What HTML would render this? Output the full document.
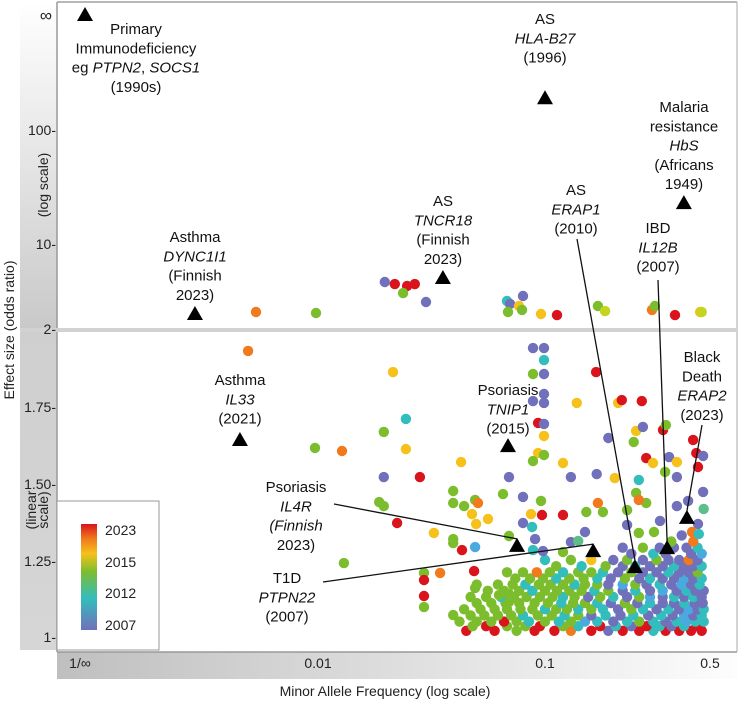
<!DOCTYPE html>
<html><head><meta charset="utf-8"><style>
html,body{margin:0;padding:0;background:#fff;}
svg{display:block;font-family:"Liberation Sans",sans-serif;}
</style></head><body>
<svg id="chart" width="739" height="701" viewBox="0 0 739 701">
<defs>
<linearGradient id="ybandUp" x1="0" y1="0" x2="0" y2="1"><stop offset="0" stop-color="#fff"/><stop offset="1" stop-color="#c9c9c9"/></linearGradient>
<linearGradient id="ybandLo" x1="0" y1="0" x2="0" y2="1"><stop offset="0" stop-color="#cfcfcf"/><stop offset="1" stop-color="#d6d6d6"/></linearGradient>
<linearGradient id="xband" x1="0" y1="0" x2="1" y2="0"><stop offset="0" stop-color="#bfbfbf"/><stop offset="1" stop-color="#fdfdfd"/></linearGradient>
<linearGradient id="cbar" x1="0" y1="1" x2="0" y2="0"><stop offset="0" stop-color="#7070bb"/><stop offset="0.3" stop-color="#33bdbd"/><stop offset="0.55" stop-color="#7cbd2d"/><stop offset="0.72" stop-color="#f6c11a"/><stop offset="0.86" stop-color="#f07a1c"/><stop offset="1" stop-color="#d9141c"/></linearGradient>
</defs>
<rect x="20" y="2" width="37" height="326" fill="url(#ybandUp)"/>
<rect x="20" y="332" width="37" height="318" fill="url(#ybandLo)"/>
<rect x="57" y="652" width="680" height="27" fill="url(#xband)"/>
<line x1="57" y1="2" x2="737" y2="2" stroke="#a0a0a0" stroke-width="1.5"/>
<line x1="57" y1="2" x2="57" y2="652" stroke="#999" stroke-width="1.5"/>
<line x1="737" y1="2" x2="737" y2="652" stroke="#aaa" stroke-width="1"/>
<line x1="57" y1="652" x2="737" y2="652" stroke="#999" stroke-width="1.5"/>
<rect x="20" y="328" width="717" height="4" fill="#d2d2d2"/>
<g id="marks"></g>
<g id="ann" font-size="15" fill="#111" text-anchor="middle"></g>
<g font-size="14" fill="#222">
<text x="52" y="21" text-anchor="end" font-size="17">∞</text>
<text x="56" y="135" text-anchor="end">100-</text>
<text x="56" y="249" text-anchor="end">10-</text>
<text x="56" y="334" text-anchor="end">2-</text>
<text x="56" y="412" text-anchor="end">1.75-</text>
<text x="56" y="489" text-anchor="end">1.50-</text>
<text x="56" y="566" text-anchor="end">1.25-</text>
<text x="56" y="642" text-anchor="end">1-</text>
</g>
<g font-size="14" fill="#222" text-anchor="middle">
<text x="80" y="668">1/∞</text>
<text x="318" y="668">0.01</text>
<text x="545" y="668">0.1</text>
<text x="710" y="668">0.5</text>
</g>
<text x="385" y="696" font-size="14" fill="#222" text-anchor="middle">Minor Allele Frequency (log scale)</text>
<text transform="translate(14,330) rotate(-90)" font-size="14" fill="#222" text-anchor="middle">Effect size (odds ratio)</text>
<text transform="translate(48,185) rotate(-90)" font-size="14" fill="#222" text-anchor="middle">(log scale)</text>
<text transform="translate(36,510) rotate(-90)" font-size="14" fill="#222" text-anchor="middle"><tspan x="0" dy="0">(linear</tspan><tspan x="0" dy="12">scale)</tspan></text>
<g>
<rect x="57" y="501" width="102" height="149" fill="#fff" stroke="#999" stroke-width="1"/>
<rect x="81" y="524" width="16" height="106" fill="url(#cbar)"/>
<g font-size="14" fill="#222">
<text x="105" y="535">2023</text>
<text x="105" y="567">2015</text>
<text x="105" y="598">2012</text>
<text x="105" y="630">2007</text>
</g></g>
</svg>
<script>
// dots: [minor allele frequency, odds ratio, year]
const upperDots=[[0.00533,2.53,2018],[0.0098,2.48,2012],[0.0197,4.64,2007],[0.0218,4.45,2023],[0.0247,4.28,2023],[0.0267,4.45,2023],[0.0237,3.71,2012],[0.0299,3.10,2007],[0.068,3.16,2010],[0.0702,2.98,2007],[0.080,3.50,2007],[0.0687,2.53,2012],[0.0768,2.86,2015],[0.0792,2.64,2012],[0.096,2.43,2015],[0.113,2.38,2023],[0.171,2.86,2012],[0.184,2.58,2014],[0.296,2.64,2018],[0.305,2.86,2012],[0.374,2.38,2023],[0.482,2.53,2015],[0.49,2.53,2014]];
const clusterDots=[
[0.045,1.02,2023],[0.06,1.02,2023],[0.075,1.02,2012],[0.09,1.02,2023],[0.11,1.02,2023],[0.13,1.02,2018],[0.16,1.02,2023],[0.19,1.02,2007],[0.22,1.02,2023],[0.26,1.02,2023],[0.3,1.02,2010],[0.34,1.02,2023],[0.39,1.02,2023],[0.44,1.02,2023],[0.49,1.02,2023],
[0.048,1.035,2012],[0.055,1.035,2023],[0.068,1.035,2012],[0.082,1.035,2012],[0.095,1.035,2023],[0.12,1.035,2012],[0.14,1.035,2010],[0.175,1.035,2023],[0.205,1.035,2010],[0.24,1.035,2007],[0.28,1.035,2023],[0.32,1.035,2010],[0.36,1.035,2007],[0.41,1.035,2010],[0.465,1.035,2023],
[0.042,1.05,2012],[0.05,1.05,2012],[0.058,1.05,2012],[0.066,1.05,2023],[0.075,1.05,2012],[0.085,1.05,2010],[0.1,1.05,2012],[0.115,1.05,2010],[0.13,1.05,2012],[0.15,1.05,2009],[0.17,1.05,2010],[0.2,1.05,2007],[0.23,1.05,2010],[0.26,1.05,2012],[0.3,1.05,2010],[0.34,1.05,2007],[0.38,1.05,2010],[0.42,1.05,2009],[0.46,1.05,2010],[0.5,1.05,2010],
[0.047,1.07,2012],[0.054,1.07,2012],[0.062,1.07,2012],[0.071,1.07,2012],[0.08,1.07,2010],[0.093,1.07,2012],[0.107,1.07,2012],[0.122,1.07,2010],[0.14,1.07,2012],[0.16,1.07,2007],[0.185,1.07,2010],[0.215,1.07,2007],[0.245,1.07,2010],[0.285,1.07,2007],[0.325,1.07,2010],[0.365,1.07,2007],[0.41,1.07,2009],[0.45,1.07,2007],[0.49,1.07,2010],
[0.044,1.09,2012],[0.052,1.09,2012],[0.06,1.09,2012],[0.068,1.09,2012],[0.078,1.09,2012],[0.088,1.09,2012],[0.1,1.09,2010],[0.112,1.09,2012],[0.125,1.09,2012],[0.14,1.09,2010],[0.16,1.09,2012],[0.18,1.09,2010],[0.21,1.09,2007],[0.24,1.09,2012],[0.27,1.09,2010],[0.31,1.09,2007],[0.35,1.09,2010],[0.39,1.09,2007],[0.43,1.09,2009],[0.47,1.09,2007],[0.5,1.09,2010],
[0.05,1.11,2012],[0.058,1.11,2012],[0.067,1.11,2012],[0.077,1.11,2012],[0.09,1.11,2012],[0.103,1.11,2012],[0.118,1.11,2010],[0.133,1.11,2012],[0.15,1.11,2012],[0.17,1.11,2010],[0.195,1.11,2007],[0.225,1.11,2012],[0.255,1.11,2007],[0.29,1.11,2010],[0.33,1.11,2007],[0.37,1.11,2007],[0.41,1.11,2010],[0.455,1.11,2007],[0.495,1.11,2007],
[0.047,1.13,2012],[0.055,1.13,2012],[0.064,1.13,2010],[0.073,1.13,2012],[0.083,1.13,2012],[0.095,1.13,2012],[0.108,1.13,2012],[0.12,1.13,2010],[0.135,1.13,2012],[0.155,1.13,2007],[0.175,1.13,2012],[0.2,1.13,2010],[0.23,1.13,2007],[0.26,1.13,2012],[0.29,1.13,2009],[0.33,1.13,2007],[0.37,1.13,2010],[0.41,1.13,2007],[0.45,1.13,2010],[0.49,1.13,2007],
[0.056,1.15,2012],[0.066,1.15,2012],[0.077,1.15,2012],[0.088,1.15,2010],[0.1,1.15,2012],[0.113,1.15,2012],[0.128,1.15,2012],[0.145,1.15,2012],[0.165,1.15,2010],[0.19,1.15,2012],[0.22,1.15,2007],[0.25,1.15,2010],[0.29,1.15,2007],[0.33,1.15,2009],[0.38,1.15,2007],[0.42,1.15,2010],[0.46,1.15,2007],[0.5,1.15,2007],
[0.05,1.17,2012],[0.062,1.17,2012],[0.072,1.17,2012],[0.082,1.17,2010],[0.094,1.17,2012],[0.106,1.17,2012],[0.12,1.17,2012],[0.135,1.17,2010],[0.15,1.17,2012],[0.17,1.17,2012],[0.19,1.17,2007],[0.22,1.17,2009],[0.25,1.17,2012],[0.28,1.17,2007],[0.32,1.17,2010],[0.36,1.17,2007],[0.4,1.17,2009],[0.44,1.17,2007],[0.48,1.17,2010],
[0.074,1.19,2012],[0.086,1.19,2012],[0.098,1.19,2012],[0.112,1.19,2010],[0.128,1.19,2012],[0.148,1.19,2012],[0.17,1.19,2010],[0.195,1.19,2007],[0.225,1.19,2012],[0.26,1.19,2007],[0.29,1.19,2010],[0.33,1.19,2007],[0.37,1.19,2007],[0.41,1.19,2009],[0.45,1.19,2007],[0.49,1.19,2010],
[0.068,1.21,2012],[0.08,1.21,2012],[0.092,1.21,2018],[0.105,1.21,2012],[0.12,1.21,2010],[0.14,1.21,2012],[0.16,1.21,2012],[0.18,1.21,2010],[0.21,1.21,2007],[0.24,1.21,2012],[0.27,1.21,2007],[0.31,1.21,2007],[0.35,1.21,2010],[0.39,1.21,2007],[0.43,1.21,2007],[0.47,1.21,2012],
[0.112,1.23,2012],[0.145,1.23,2010],[0.185,1.23,2012],[0.22,1.23,2007],[0.25,1.23,2010],[0.29,1.23,2007],[0.33,1.23,2007],[0.37,1.23,2010],[0.41,1.23,2007],[0.45,1.23,2007],[0.49,1.23,2010],
[0.1,1.25,2010],[0.13,1.25,2012],[0.16,1.25,2015],[0.2,1.25,2007],[0.23,1.25,2012],[0.27,1.25,2007],[0.31,1.25,2012],[0.35,1.25,2007],[0.39,1.25,2007],[0.43,1.25,2018],[0.47,1.25,2007],
[0.24,1.27,2007],[0.3,1.27,2010],[0.34,1.27,2007],[0.44,1.27,2007],[0.49,1.27,2009],
[0.22,1.29,2007],[0.27,1.29,2012],[0.32,1.29,2007],[0.37,1.29,2007],[0.42,1.29,2007],[0.47,1.29,2010],[0.4,1.33,2007],[0.45,1.31,2018],[0.36,1.31,2012]];
const scatterDots=[[0.00492,1.929,2018],[0.0097,1.614,2012],[0.01276,1.604,2018],[0.013,1.24,2012],[0.0214,1.86,2015],[0.0244,1.708,2010],[0.0195,1.666,2012],[0.0244,1.61,2015],[0.0427,1.568,2015],[0.0195,1.519,2007],[0.0281,1.519,2023],[0.0694,1.519,2007],[0.0394,1.474,2012],[0.0653,1.464,2012],[0.0186,1.438,2012],[0.0195,1.425,2012],[0.0394,1.435,2012],[0.044,1.425,2012],[0.0492,1.445,2012],[0.0507,1.435,2018],[0.0477,1.399,2015],[0.0561,1.383,2015],[0.0497,1.367,2015],[0.0223,1.37,2023],[0.0324,1.338,2015],[0.0394,1.318,2012],[0.0394,1.305,2012],[0.0431,1.282,2023],[0.0492,1.292,2009],[0.0694,1.328,2012],[0.0293,1.208,2012],[0.0345,1.208,2018],[0.0487,1.214,2023],[0.0293,1.185,2023],[0.0492,1.159,2012],[0.0293,1.133,2023],[0.0293,1.097,2012],[0.0394,1.071,2012],[0.0627,1.136,2012],[0.0694,1.14,2012],[0.0694,1.114,2012],
[0.0885,1.938,2007],[0.099,1.938,2007],[0.099,1.899,2010],[0.0885,1.854,2012],[0.099,1.854,2007],[0.099,1.789,2007],[0.0885,1.766,2007],[0.099,1.76,2007],[0.0932,1.695,2023],[0.099,1.692,2007],[0.099,1.653,2015],[0.0932,1.597,2015],[0.099,1.591,2012],[0.0885,1.571,2012],[0.168,1.86,2023],[0.138,1.76,2015],[0.21,1.76,2015],[0.218,1.769,2023],[0.267,1.766,2023],[0.19,1.646,2007],[0.252,1.669,2015],[0.27,1.682,2007],[0.246,1.633,2012],[0.331,1.672,2023],[0.341,1.688,2012],[0.449,1.64,2023],[0.464,1.597,2023],[0.497,1.588,2007],[0.279,1.581,2023],[0.299,1.565,2015],[0.352,1.584,2007],[0.381,1.568,2015],[0.472,1.552,2023],[0.338,1.536,2012],[0.381,1.519,2007],[0.12,1.565,2015],[0.13,1.519,2007],[0.169,1.529,2007],[0.203,1.516,2015],[0.259,1.51,2010],[0.497,1.471,2007],[0.252,1.468,2012],[0.279,1.435,2012],[0.259,1.445,2018],[0.427,1.442,2007],[0.381,1.425,2007],[0.5,1.416,2011],[0.12,1.396,2023],[0.097,1.396,2023],[0.0868,1.399,2015],[0.096,1.442,2012],[0.08,1.455,2007],[0.152,1.406,2012],[0.18,1.406,2012],[0.171,1.435,2018],[0.23,1.412,2012],[0.23,1.364,2007],[0.321,1.377,2007],[0.472,1.367,2007],[0.08,1.37,2007],[0.0877,1.357,2010],[0.15,1.341,2007],[0.13,1.308,2007],[0.14,1.312,2011],[0.0904,1.318,2007],[0.0885,1.282,2010],[0.098,1.279,2007],[0.12,1.276,2012],[0.259,1.338,2012],[0.302,1.341,2012],[0.444,1.341,2018],[0.476,1.334,2010]];
// triangles: maf, odds ratio
const triNames=["PID","DYNC1I1","HLA-B27","TNCR18","HbS","IL33","TNIP1","IL4R","PTPN22","ERAP1","IL12B","ERAP2"];
const triMaf=[0,0.00287,0.1,0.0355,0.409,0.00453,0.0687,0.0753,0.163,0.249,0.345,0.422];
const triOr=[Infinity,2.48,194,5.14,23.3,1.643,1.623,1.299,1.282,1.23,1.292,1.39];
const yearStops=[2007,2009,2010,2011,2012,2014,2015,2018,2023];
const yearColors=["#7070bb","#4aaae0","#33bdbd","#5cbf8a","#7cbd2d","#c4d420","#f6c11a","#f07a1c","#d9141c"];

function xScale(m){return m===0?85:545+227*Math.log10(m/0.1);}
function yScale(o){if(o===Infinity)return 14;if(o>2)return 244-114*Math.log10(o/10);return 637-(o-1)*308;}
function yearColor(y){let best=0;for(let i=0;i<yearStops.length;i++){if(Math.abs(yearStops[i]-y)<Math.abs(yearStops[best]-y))best=i;}return yearColors[best];}
const NS="http://www.w3.org/2000/svg";
const marks=document.getElementById('marks');
function drawDots(arr,name){arr.forEach(d=>{const c=document.createElementNS(NS,'circle');
c.setAttribute('cx',xScale(d[0]).toFixed(1));c.setAttribute('cy',yScale(d[1]).toFixed(1));c.setAttribute('r',5.2);c.setAttribute('fill',yearColor(d[2]));


marks.appendChild(c);});}
drawDots(clusterDots,'variant-point');
drawDots(scatterDots,'variant-point');
drawDots(upperDots,'variant-point');

const ann=document.getElementById('ann');
const labels=[
[0,136,34,["Primary","Immunodeficiency","eg <i>PTPN2</i>, <i>SOCS1</i>","(1990s)"],null],
[1,195,242,["Asthma","<i>DYNC1I1</i>","(Finnish","2023)"],null],
[2,545,24,["AS","<i>HLA-B27</i>","(1996)"],null],
[3,443,206,["AS","<i>TNCR18</i>","(Finnish","2023)"],null],
[4,684,112,["Malaria","resistance","<i>HbS</i>","(Africans","1949)"],null],
[5,240,385,["Asthma","<i>IL33</i>","(2021)"],null],
[6,508,395,["Psoriasis","<i>TNIP1</i>","(2015)"],null],
[7,296,492,["Psoriasis","<i>IL4R</i>","<i>(Finnish</i>","2023)"],[334,504]],
[8,287,583,["T1D","<i>PTPN22</i>","(2007)"],[323,582]],
[9,576,195,["AS","<i>ERAP1</i>","(2010)"],[577,239]],
[10,658,233,["IBD","<i>IL12B</i>","(2007)"],[658,280]],
[11,702,362,["Black","Death","<i>ERAP2</i>","(2023)"],[702,425]]];
labels.forEach(L=>{
 const g=document.createElementNS(NS,'g');
 
 
 const t=document.createElementNS(NS,'text');
 let html='';L[3].forEach((s,i)=>{html+='<tspan x="'+L[1]+'" y="'+(L[2]+i*19.3)+'">'+s.replace(/<i>/g,'<tspan font-style="italic">').replace(/<\/i>/g,'</tspan>')+'</tspan>';});
 t.innerHTML=html;g.appendChild(t);
 const tx=xScale(triMaf[L[0]]),ty=yScale(triOr[L[0]]);
 if(L[4]){const ln=document.createElementNS(NS,'line');ln.setAttribute('x1',L[4][0]);ln.setAttribute('y1',L[4][1]);ln.setAttribute('x2',tx);ln.setAttribute('y2',ty-6);ln.setAttribute('stroke','#111');ln.setAttribute('stroke-width','1.3');g.appendChild(ln);}
 const p=document.createElementNS(NS,'polygon');
 p.setAttribute('points',(tx-8)+','+(ty+7)+' '+(tx+8)+','+(ty+7)+' '+tx+','+(ty-7));
 p.setAttribute('fill','#000');
 
 
 g.appendChild(p);
 ann.appendChild(g);
});
</script>
</body></html>
